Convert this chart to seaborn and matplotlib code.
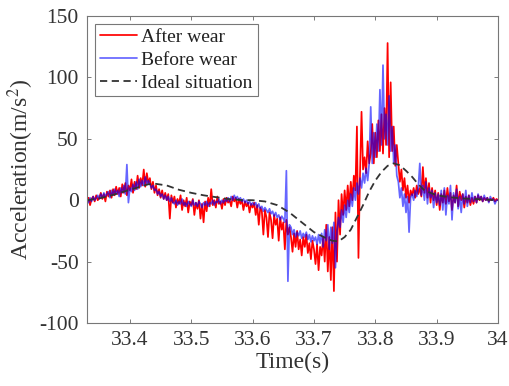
import numpy as np
import pandas as pd
import matplotlib
matplotlib.use("Agg")
import matplotlib.pyplot as plt
import seaborn as sns

# Sampling grid of the measured accelerations
t_start = 33.33
dt = 0.0025

# Measured acceleration after wear (m/s^2)
after_wear = [
    # 33.33 - 33.43
    -2, 2, -4, 1, 3, -1, 4, 0, 2, 6, 1, 5, -1, 7, 3, 8, 2, 9, 4, 11,
    5, 10, 3, 13, 6, 14, 4, 12, 8, 17, 6, 15, 9, 20, 10, 18, 12, 25, 11, 22, 14,
    # 33.4325 - 33.47
    18, 9, 15, 6, 12, 4, 9, 2, 8, 1, 6, 0, 5, -15, 4, -2,
    # 33.4725 - 33.60
    3, -6, 1, -3, 4, -8, 0, -5, 2, -10, -1, -4, 1, -12, -2, -7, 0, -15, -3, -18,
    -1, -9, 2, -5, 9, -4, 0, -6, 3, -3, -1, -7, 1, -4, 2, -2, 0, -5, 3, -1,
    2, -6, 1, -3, 0, -8, -1, -5, -2, -10, -3, -6,
    # 33.6025 - 33.66
    -2, -12, -4, -20, -6, -9, -28, -8, -14, -30, -10, -16, -31, -12, -20, -15,
    -33, -14, -24, -18, -40, -16, -28, -22,
    # 33.6625 - 33.7375
    -30, -42, -27, -38, -25, -40, -32, -45, -30, -38, -28, -43, -35, -48, -33, -40,
    -52, -36, -57, -38, -45, -30, -50, -20, -58, -30, -65, -22, -74, -10, -50,
    # 33.74 - 33.79
    0, -28, 5, -12, 8, -8, 12, -5, 15, 0, 20, 8, 60, -47, 20, 72, 25, 35, 22, 48, 30,
    # 33.7925 - 33.835
    38, 62, 30, 55, 35, 65, 40, 70, 38, 75, 45, 128, 35, 96, 40, 60, 28, 45,
    # 33.8375 - 33.87
    30, 15, 25, 8, 18, 2, 12, -2, 8, 4, 10, 2, 12, 5,
    # 33.8725 - 33.91
    10, 3, 27, 6, 18, 2, 14, -2, 10, 0, 8, -4, 6, -8, 5, -2,
    # 33.9125 - 34.00
    8, -3, 10, -1, 6, -8, 4, -2, 12, -5, 7, 0, 5, -6, 3, -2, 4, -4, 2, -3,
    3, -2, 4, 0, 3, -1, 2, 0, 2, -1, 1, 0, 2, -1, 1, 0,
]

# Measured acceleration before wear (m/s^2)
before_wear = [
    # 33.33 - 33.43
    1, -2, 2, -1, 3, 0, 2, 4, 1, 5, 2, 6, 3, 5, 7, 2, 8, 4, 9, 5,
    8, 3, 10, 6, 12, 5, 29, -2, 10, 7, 13, 8, 15, 9, 17, 11, 16, 12, 19, 13, 16,
    # 33.4325 - 33.47
    13, 10, 12, 8, 9, 5, 7, 3, 5, 1, 4, 0, 3, -1, 2, -2,
    # 33.4725 - 33.60
    -3, 0, -4, -1, -3, 1, -4, -2, -5, -1, -3, -5, 0, -4, -2, -5, -1, -3, -6, -2,
    -4, -1, -5, -2, -3, 0, -4, -1, -2, 1, -3, 0, -2, 1, -1, 2, -1, 3, 0, 4,
    1, 3, 0, 2, -1, 1, -2, 0, -3, -1, -4, -2,
    # 33.6025 - 33.66
    -4, -2, -6, -3, -7, -5, -9, -6, -8, -10, -7, -11, -9, -13, -10, -14,
    -12, -16, -13, -15, -18, 24, -66, -20,
    # 33.6625 - 33.7375
    -22, -28, -24, -30, -26, -29, -25, -31, -27, -30, -26, -32, -28, -34, -29, -33,
    -30, -36, -28, -35, -27, -38, -24, -33, -20, -40, -22, -35, -18, -55, -25,
    # 33.74 - 33.79
    -14, -22, -8, -18, -4, -14, 0, -10, 5, -5, 10, 0, 14, 5, 18, 10, 22, 14, 26, 16, 30,
    # 33.7925 - 33.835
    76, 30, 55, 35, 62, 40, 90, 45, 110, 50, 70, 45, 85, 40, 60, 30, 45, 20,
    # 33.8375 - 33.87
    15, 2, 10, -5, 5, -10, 3, -26, 2, 5, 0, 8, 3, 10,
    # 33.8725 - 33.91
    30, 4, 12, 0, 15, -3, 10, 2, 8, -6, 6, -2, 5, -4, 8, -8,
    # 33.9125 - 34.00
    10, -12, 4, -3, 12, -16, 6, -2, 9, -7, 3, -10, 5, -3, 8, -5, 4, -2, 6, -1,
    3, -2, 5, 1, 3, -1, 4, 0, 2, -2, 3, 0, 1, -3, 0, 0,
]

# Ideal (theoretical) acceleration profile
ideal_time = [33.33, 33.35, 33.37, 33.39, 33.41, 33.43, 33.44, 33.46, 33.48, 33.50,
              33.52, 33.54, 33.56, 33.58, 33.60, 33.62, 33.64, 33.66, 33.68, 33.70,
              33.72, 33.73, 33.74, 33.75, 33.76, 33.77, 33.78, 33.79, 33.80, 33.81,
              33.82, 33.83, 33.84, 33.85, 33.86, 33.87, 33.88, 33.90, 33.92, 33.94,
              33.96, 33.98, 34.00]
ideal_accel = [0, 1.5, 4, 7, 10, 13, 13.5, 12, 8.5, 6,
               4, 2.5, 1, 0.2, 0, -1, -4, -10, -18, -26,
               -31, -33, -33.5, -30, -24, -14, -4, 7, 16, 23,
               28, 30, 28.5, 24, 19, 13, 8, 4, 2.5, 1.5,
               1, 0.5, 0]

x_ticks = [33.4, 33.5, 33.6, 33.7, 33.8, 33.9, 34.0]
x_tick_labels = ["33.4", "33.5", "33.6", "33.7", "33.8", "33.9", "34"]
y_ticks = [-100, -50, 0, 50, 100, 150]

t_after = t_start + dt * np.arange(len(after_wear))
t_before = t_start + dt * np.arange(len(before_wear))

sns.set_style("ticks")
plt.rcParams["font.family"] = ["Liberation Serif", "DejaVu Serif"]
plt.rcParams["mathtext.fontset"] = "stix"
plt.rcParams["axes.unicode_minus"] = False

fig = plt.figure(figsize=(5.1, 3.86), dpi=100)
ax = fig.add_axes([0.1706, 0.1632, 0.8059, 0.7953])

sns.lineplot(x=t_after, y=after_wear, ax=ax, color="#ff0000", lw=1.25,
             label="After wear", estimator=None)
sns.lineplot(x=t_before, y=before_wear, ax=ax, color="#0000ff", lw=1.25,
             alpha=0.6, label="Before wear", estimator=None)
sns.lineplot(x=ideal_time, y=ideal_accel, ax=ax, color="#333333", lw=1.3,
             label="Ideal situation", estimator=None)
ax.lines[-1].set_dashes([4, 2.5])

ax.set_xlim(33.33, 34.0)
ax.set_ylim(-100, 150)
ax.set_xticks(x_ticks)
ax.set_xticklabels(x_tick_labels)
ax.set_yticks(y_ticks)
ax.tick_params(direction="in", top=True, right=True, length=3, width=0.6,
               color="#666666", labelsize=15.5, labelcolor="#333333", pad=6)
for sp in ax.spines.values():
    sp.set_visible(True)
    sp.set_color("#777777")
    sp.set_linewidth(0.8)

ax.set_xlabel("Time(s)", fontsize=17, color="#333333", labelpad=1)
ax.set_ylabel("Acceleration(m/s$^2$)", fontsize=17, color="#333333", labelpad=2)

leg = ax.legend(loc="upper left", fontsize=14, frameon=True, fancybox=False,
                edgecolor="#555555", handlelength=1.9, handletextpad=0.25,
                labelspacing=0.26, borderpad=0.25, borderaxespad=0.4)
leg.get_frame().set_linewidth(0.8)
for txt in leg.get_texts():
    txt.set_color("#222222")

fig.savefig("out.png", dpi=100)
